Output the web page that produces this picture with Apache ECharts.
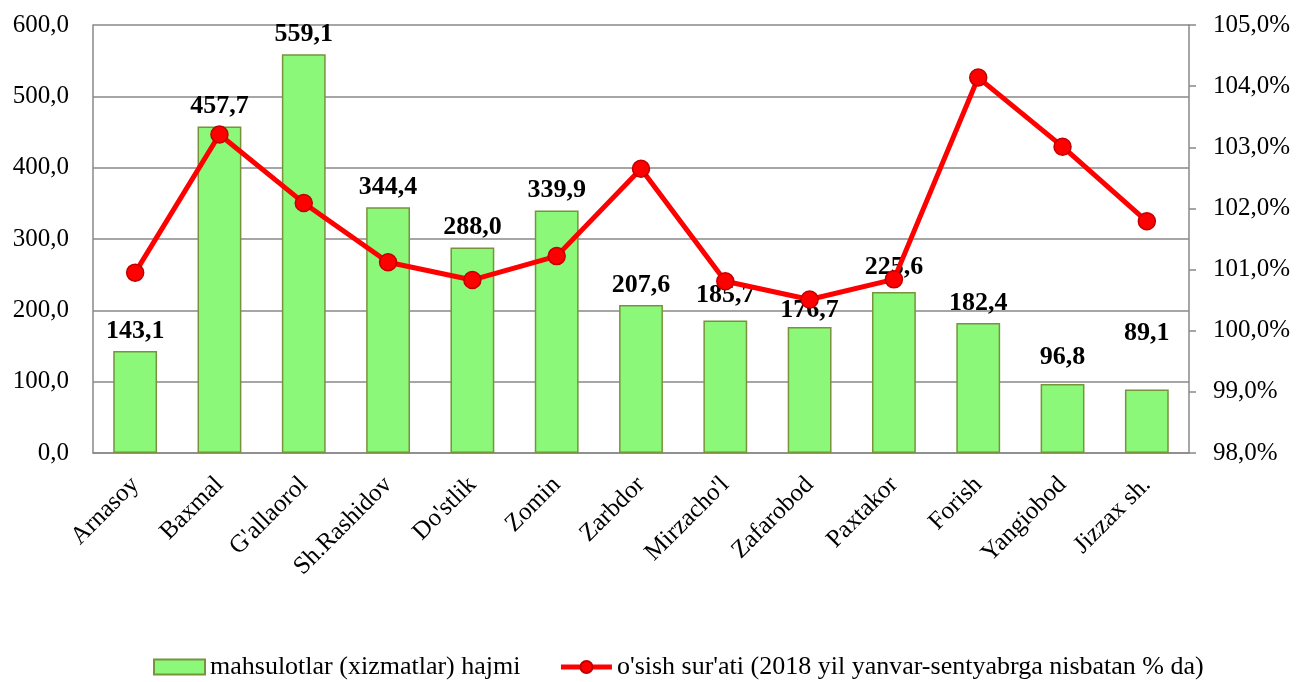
<!DOCTYPE html>
<html>
<head>
<meta charset="utf-8">
<script src="https://cdn.jsdelivr.net/npm/echarts@6/dist/echarts.min.js"></script>
<style>
html,body{margin:0;padding:0;background:#fff;}
#c{width:1304px;height:682px;}
</style>
</head>
<body>
<div id="c"></div>
<script>
const categories = ["Arnasoy","Baxmal","G'allaorol","Sh.Rashidov","Do'stlik","Zomin","Zarbdor","Mirzacho'l","Zafarobod","Paxtakor","Forish","Yangiobod","Jizzax sh."];
const volumeValues = [143.1, 457.7, 559.1, 344.4, 288.0, 339.9, 207.6, 185.7, 176.7, 225.6, 182.4, 96.8, 89.1];
const growthValues = [100.95, 103.21, 102.09, 101.12, 100.83, 101.22, 102.65, 100.81, 100.51, 100.84, 104.14, 103.01, 101.79];
const seriesNames = ["mahsulotlar (xizmatlar) hajmi", "o'sish sur'ati (2018 yil yanvar-sentyabrga nisbatan % da)"];

// label vertical offsets (styling only)
const labelShift = {7: -5, 8: 3, 9: -5, 11: -7, 12: -36};

const serif = "'Liberation Serif', 'Times New Roman', serif";
const fmt1 = v => v.toFixed(1).replace('.', ',');

const chart = echarts.init(document.getElementById('c'), null, {renderer: 'canvas'});
chart.setOption({
  animation: false,
  backgroundColor: '#ffffff',
  textStyle: {fontFamily: serif},
  grid: {left: 93, right: 115, top: 25, bottom: 229, containLabel: false},
  legend: {
    top: 649,
    left: 148,
    itemWidth: 51,
    itemHeight: 15,
    itemGap: 38,
    textStyle: {fontFamily: serif, fontSize: 26, color: '#000'},
    data: [
      {name: seriesNames[0], icon: 'rect'},
      {name: seriesNames[1], lineStyle: {width: 5, color: '#ff0000'}}
    ]
  },
  xAxis: {
    type: 'category',
    data: categories,
    axisLine: {lineStyle: {color: '#898989', width: 1.5}},
    axisTick: {show: false},
    axisLabel: {rotate: 45, fontFamily: serif, fontSize: 25, color: '#000', margin: 28, interval: 0}
  },
  yAxis: [
    {
      type: 'value', min: 0, max: 600, interval: 100,
      axisLine: {show: true, lineStyle: {color: '#898989', width: 1.5}},
      axisTick: {show: false},
      splitLine: {lineStyle: {color: '#898989', width: 1.5}},
      axisLabel: {fontFamily: serif, fontSize: 25, color: '#000', margin: 24, formatter: v => fmt1(v)}
    },
    {
      type: 'value', min: 98, max: 105, interval: 1,
      position: 'right',
      axisLine: {show: true, lineStyle: {color: '#898989', width: 1.5}},
      axisTick: {show: true, inside: false, length: 7, lineStyle: {color: '#898989', width: 1.5}},
      splitLine: {show: false},
      axisLabel: {fontFamily: serif, fontSize: 25, color: '#000', margin: 24, formatter: v => fmt1(v) + '%'}
    }
  ],
  series: [
    {
      name: seriesNames[0],
      type: 'bar',
      yAxisIndex: 0,
      barWidth: '52%',
      itemStyle: {color: '#8cf87a', borderColor: '#77933c', borderWidth: 1.5},
      data: volumeValues.map((v, i) => ({
        value: v,
        label: labelShift[i] ? {offset: [0, labelShift[i]]} : undefined
      })),
      label: {
        show: true, position: 'top', distance: 7,
        fontFamily: serif, fontSize: 26, fontWeight: 'bold', color: '#000',
        formatter: p => fmt1(p.value)
      },
      z: 2
    },
    {
      name: seriesNames[1],
      type: 'line',
      yAxisIndex: 1,
      data: growthValues,
      symbol: 'circle',
      symbolSize: 17,
      lineStyle: {color: '#ff0000', width: 5},
      itemStyle: {color: '#ff0000', borderColor: '#c00000', borderWidth: 1.5},
      z: 3
    }
  ]
});
</script>
</body>
</html>
